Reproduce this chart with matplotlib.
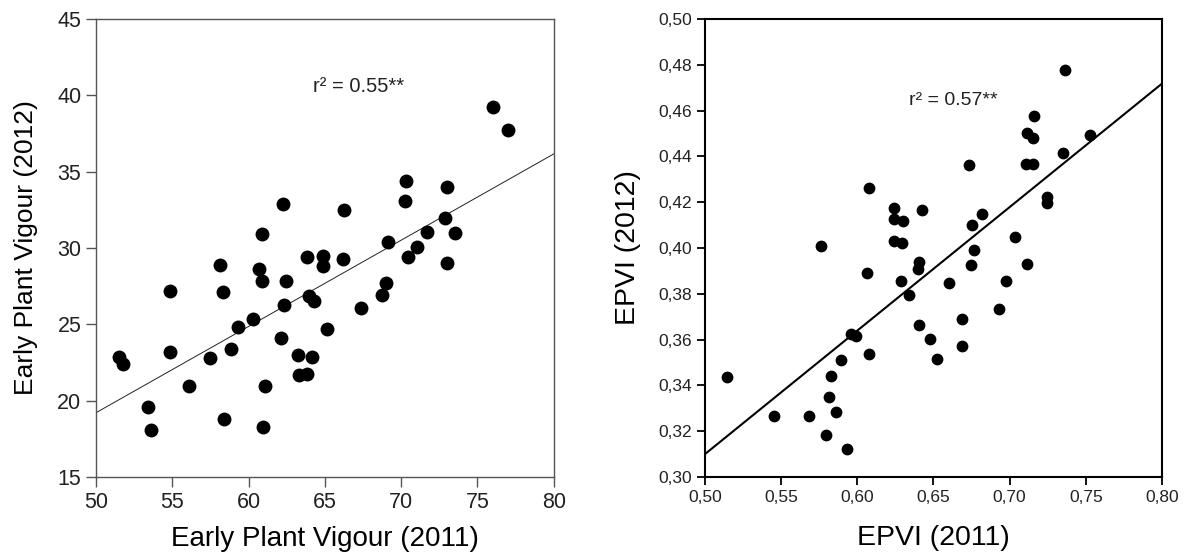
import matplotlib
matplotlib.use('Agg')
import matplotlib.pyplot as plt

plt.rcParams['font.family'] = ['Liberation Sans', 'DejaVu Sans']

# early plant vigour, 2011 vs 2012
epv_2011 = [76.0, 77.0, 70.35, 70.26, 73.0, 62.24, 66.23, 60.86, 69.17, 71.71,
            72.85, 73.55, 71.05, 58.16, 60.66, 63.82, 64.91, 64.87, 66.2, 70.44,
            72.98, 60.88, 62.46, 54.87, 58.33, 63.95, 64.3, 62.32, 67.37, 68.77,
            68.99, 60.26, 59.34, 65.13, 62.11, 58.82, 54.87, 51.53, 51.75, 57.5,
            63.25, 64.17, 63.33, 63.82, 56.07, 61.1, 53.42, 53.64, 58.37, 60.96]
epv_2012 = [39.21, 37.75, 34.36, 33.07, 33.99, 32.88, 32.49, 30.89, 30.41, 31.04,
            31.98, 30.98, 30.06, 28.88, 28.6, 29.39, 29.47, 28.82, 29.28, 29.39,
            29.04, 27.86, 27.86, 27.18, 27.1, 26.87, 26.55, 26.24, 26.05, 26.94,
            27.68, 25.37, 24.84, 24.69, 24.1, 23.36, 23.16, 22.88, 22.4, 22.81,
            23.01, 22.88, 21.68, 21.75, 20.96, 20.96, 19.58, 18.08, 18.82, 18.29]
epv_fit_x = [50, 80]
epv_fit_y = [19.21, 36.16]

# EPVI, 2011 vs 2012
epvi_2011 = [0.7363, 0.7159, 0.7111, 0.7154, 0.7528, 0.7348, 0.7109, 0.7154, 0.673, 0.6076,
             0.6241, 0.6424, 0.7246, 0.7242, 0.682, 0.6241, 0.6298, 0.675, 0.7037, 0.5763,
             0.6241, 0.6293, 0.6765, 0.6407, 0.6398, 0.6746, 0.7116, 0.6065, 0.6289, 0.6602,
             0.6976, 0.6341, 0.6928, 0.6689, 0.6402, 0.5957, 0.5989, 0.648, 0.6689, 0.6076,
             0.652, 0.5893, 0.5146, 0.5826, 0.5811, 0.5859, 0.545, 0.568, 0.5794, 0.5935]
epvi_2012 = [0.4776, 0.4578, 0.4501, 0.448, 0.4495, 0.4415, 0.4367, 0.4367, 0.4364, 0.4263,
             0.4176, 0.4166, 0.4221, 0.4195, 0.415, 0.4128, 0.4119, 0.4099, 0.4048, 0.4009,
             0.4032, 0.4023, 0.3991, 0.3939, 0.391, 0.3926, 0.3931, 0.3889, 0.3854, 0.3846,
             0.3854, 0.3793, 0.3732, 0.3689, 0.3662, 0.3624, 0.3614, 0.3604, 0.3572, 0.3537,
             0.3515, 0.3511, 0.3435, 0.3442, 0.3351, 0.3283, 0.3265, 0.3265, 0.3183, 0.3122]
epvi_fit_x = [0.50, 0.80]
epvi_fit_y = [0.310, 0.4718]

epv_xticks = [50, 55, 60, 65, 70, 75, 80]
epv_yticks = [15, 20, 25, 30, 35, 40, 45]
epvi_xticks = [0.50, 0.55, 0.60, 0.65, 0.70, 0.75, 0.80]
epvi_yticks = [0.30, 0.32, 0.34, 0.36, 0.38, 0.40, 0.42, 0.44, 0.46, 0.48, 0.50]

fig = plt.figure(figsize=(11.89, 5.57), dpi=100)
ax1 = fig.add_axes([0.0807, 0.1436, 0.385, 0.8223])
ax2 = fig.add_axes([0.5929, 0.1436, 0.3844, 0.8223])

# left panel
ax1.scatter(epv_2011, epv_2012, s=100, color='black', zorder=3, linewidths=0)
ax1.plot(epv_fit_x, epv_fit_y, color='#222222', lw=0.7)
ax1.text(67.2, 40.6, 'r² = 0.55**', fontsize=14.5, ha='center', va='center', color='#222222')
ax1.set_xlim(50, 80)
ax1.set_ylim(15, 45)
ax1.set_xticks(epv_xticks)
ax1.set_yticks(epv_yticks)
for sp in ax1.spines.values():
    sp.set_color('#555555')
    sp.set_linewidth(1.0)
ax1.tick_params(direction='out', length=7, width=1.0, color='#555555',
                labelsize=15.5, labelcolor='#222222')
ax1.set_xlabel('Early Plant Vigour (2011)', fontsize=20, labelpad=10)
ax1.set_ylabel('Early Plant Vigour (2012)', fontsize=19, labelpad=14)

# right panel
ax2.scatter(epvi_2011, epvi_2012, s=72, color='black', zorder=3, linewidths=0)
ax2.plot(epvi_fit_x, epvi_fit_y, color='black', lw=1.5)
ax2.text(0.663, 0.4646, 'r² = 0.57**', fontsize=14, ha='center', va='center', color='#222222')
ax2.set_xlim(0.50, 0.80)
ax2.set_ylim(0.30, 0.50)
ax2.set_xticks(epvi_xticks)
ax2.set_xticklabels([f'{v:.2f}'.replace('.', ',') for v in epvi_xticks])
ax2.set_yticks(epvi_yticks)
ax2.set_yticklabels([f'{v:.2f}'.replace('.', ',') for v in epvi_yticks])
for sp in ax2.spines.values():
    sp.set_color('black')
    sp.set_linewidth(1.5)
ax2.tick_params(direction='out', length=6, width=1.3, color='black',
                labelsize=12.5, labelcolor='#222222')
ax2.set_xlabel('EPVI (2011)', fontsize=20.5, labelpad=14)
ax2.set_ylabel('EPVI (2012)', fontsize=20.5, labelpad=12)

fig.savefig('out.png', dpi=100)
